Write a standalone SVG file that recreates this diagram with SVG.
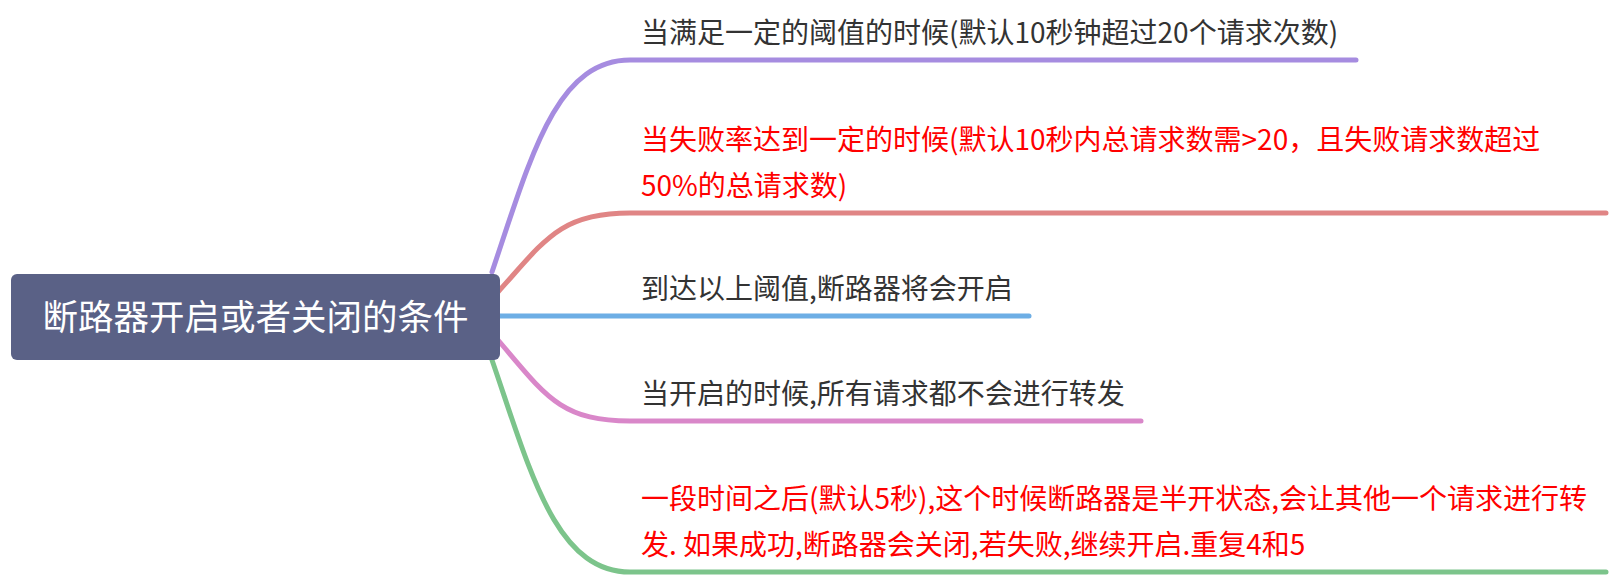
<svg xmlns="http://www.w3.org/2000/svg" width="1616" height="578" viewBox="0 0 1616 578">
<style>
.t{font-family:"Noto Sans CJK SC","Liberation Sans",sans-serif;font-size:28px;fill:#333333}
.r{fill:#ff0000}
.c{fill:none;stroke-width:5;stroke-linecap:round}
</style>
<rect width="1616" height="578" fill="#ffffff"/>
<g id="connectors">
<path class="c" stroke="#a68ce0" d="M492 272 C530 160 555 60 630 60 L1356 60"/>
<path class="c" stroke="#e08585" d="M498 292 C545 240 560 213 630 213 L1606 213"/>
<path class="c" stroke="#6daee5" d="M498 316 L1029 316"/>
<path class="c" stroke="#d987c9" d="M498 340 C545 395 560 421 630 421 L1141 421"/>
<path class="c" stroke="#7cc48b" d="M492 360 C530 470 555 572 630 572 L1606 572"/>
</g>
<g id="root">
<rect x="11" y="274" width="489" height="86" rx="6" fill="#5a6186"/>
<text x="255.5" y="330" text-anchor="middle" font-family="Noto Sans CJK SC, Liberation Sans, sans-serif" font-size="35.5" fill="#ffffff">断路器开启或者关闭的条件</text>
</g>
<g id="n1"><text class="t" x="641" y="43">当满足一定的阈值的时候(默认10秒钟超过20个请求次数)</text></g>
<g id="n2"><text class="t r" x="641" y="150">当失败率达到一定的时候(默认10秒内总请求数需&gt;20，且失败请求数超过</text><text class="t r" x="641" y="196">50%的总请求数)</text></g>
<g id="n3"><text class="t" x="641" y="299">到达以上阈值,断路器将会开启</text></g>
<g id="n4"><text class="t" x="641" y="404">当开启的时候,所有请求都不会进行转发</text></g>
<g id="n5"><text class="t r" x="641" y="509">一段时间之后(默认5秒),这个时候断路器是半开状态,会让其他一个请求进行转</text><text class="t r" x="641" y="555">发. 如果成功,断路器会关闭,若失败,继续开启.重复4和5</text></g>
</svg>
